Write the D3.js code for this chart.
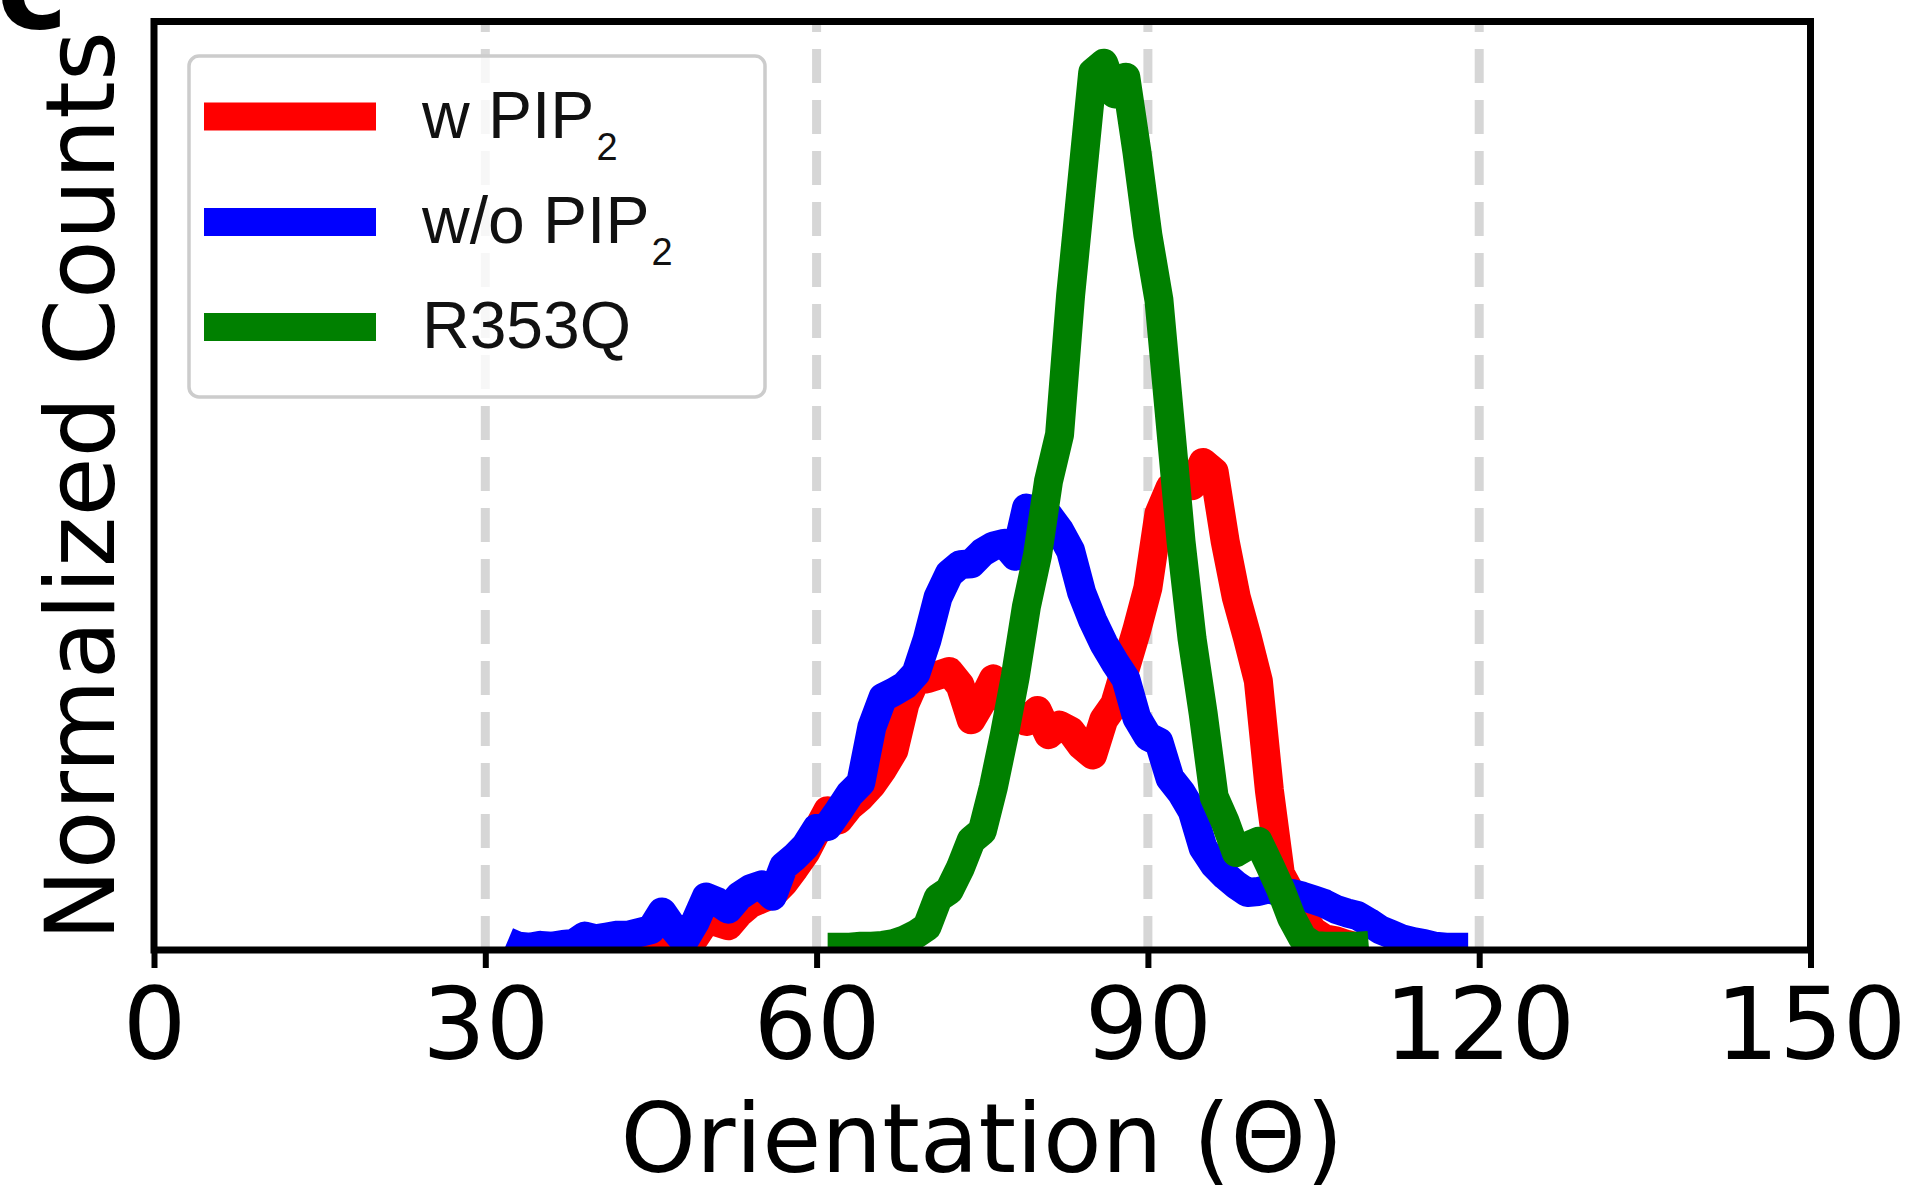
<!DOCTYPE html>
<html>
<head>
<meta charset="utf-8">
<script src="https://cdn.jsdelivr.net/npm/d3@7"></script>
<style>
  body { margin: 0; background: #fff; }
</style>
</head>
<body>
<div id="chart"></div>
<script>
'use strict';

// orientation histograms, one bin per degree, counts normalised to the axis height
var wStart = 40;
var wPip = [0.003, 0.003, 0.004, 0.004, 0.004, 0.005, 0.006, 0.003, 0.004, 0.014,
  0.032, 0.030, 0.026, 0.040, 0.050, 0.055, 0.060, 0.072, 0.088, 0.105,
  0.128, 0.150, 0.140, 0.155, 0.165, 0.178, 0.195, 0.215, 0.265, 0.292,
  0.292, 0.296, 0.300, 0.285, 0.248, 0.268, 0.292, 0.270, 0.255, 0.246,
  0.258, 0.232, 0.242, 0.236, 0.220, 0.210, 0.248, 0.265, 0.305, 0.345,
  0.390, 0.470, 0.498, 0.505, 0.500, 0.525, 0.515, 0.440, 0.380, 0.337,
  0.290, 0.172, 0.082, 0.060, 0.035, 0.020, 0.012, 0.010, 0.006, 0.003];

var woStart = 32;
var woPip = [0.009, 0.004, 0.003, 0.005, 0.004, 0.006, 0.007, 0.015, 0.012, 0.014,
  0.016, 0.016, 0.019, 0.022, 0.041, 0.024, 0.010, 0.030, 0.057, 0.052,
  0.044, 0.058, 0.066, 0.070, 0.058, 0.090, 0.100, 0.112, 0.131, 0.133,
  0.150, 0.168, 0.180, 0.240, 0.272, 0.278, 0.285, 0.298, 0.334, 0.380,
  0.405, 0.415, 0.416, 0.428, 0.435, 0.438, 0.424, 0.476, 0.472, 0.468,
  0.452, 0.430, 0.385, 0.355, 0.330, 0.310, 0.292, 0.250, 0.230, 0.224,
  0.185, 0.170, 0.150, 0.110, 0.092, 0.080, 0.070, 0.062, 0.063, 0.066,
  0.062, 0.061, 0.058, 0.054, 0.050, 0.044, 0.040, 0.037, 0.030, 0.022,
  0.017, 0.012, 0.009, 0.007, 0.004, 0.003, 0.003, 0.003];

var rStart = 61;
var r353q = [0.003, 0.003, 0.003, 0.004, 0.004, 0.005, 0.007, 0.011, 0.017, 0.025,
  0.056, 0.064, 0.088, 0.118, 0.128, 0.175, 0.232, 0.295, 0.370, 0.425,
  0.505, 0.555, 0.705, 0.825, 0.945, 0.955, 0.922, 0.940, 0.860, 0.770,
  0.700, 0.570, 0.440, 0.335, 0.255, 0.165, 0.138, 0.105, 0.112, 0.117,
  0.092, 0.066, 0.035, 0.013, 0.005, 0.004, 0.004, 0.004, 0.004, 0.005];

var seriesNames = ['w PIP', 'w/o PIP', 'R353Q'];
var seriesSubs = ['2', '2', ''];
var seriesColors = ['#ff0000', '#0000ff', '#008000'];

var xTicks = [0, 30, 60, 90, 120, 150];
var gridTicks = [30, 60, 90, 120];

var width = 1913, height = 1189;
var plotLeft = 154, plotRight = 1810.5, plotTop = 21.5, plotBottom = 950;

var svg = d3.select('#chart')
  .append('svg')
  .attr('width', width)
  .attr('height', height);

var x = d3.scaleLinear().domain([0, 150]).range([plotLeft, plotRight]);
var y = d3.scaleLinear().domain([0, 1]).range([plotBottom, plotTop]);

function toPoints(start, vals) {
  return vals.map(function (v, i) { return [start + i, v]; });
}
var series = [toPoints(wStart, wPip), toPoints(woStart, woPip), toPoints(rStart, r353q)];

svg.append('clipPath').attr('id', 'plot-clip')
  .append('rect')
  .attr('x', plotLeft).attr('y', plotTop)
  .attr('width', plotRight - plotLeft).attr('height', plotBottom - plotTop);

// dashed vertical guides
svg.append('g').selectAll('line')
  .data(gridTicks)
  .enter().append('line')
  .attr('x1', function (d) { return x(d); })
  .attr('x2', function (d) { return x(d); })
  .attr('y1', y(0))
  .attr('y2', y(1))
  .attr('stroke', '#d6d6d6')
  .attr('stroke-width', 9)
  .attr('stroke-dasharray', '34,17');

var line = d3.line()
  .x(function (d) { return x(d[0]); })
  .y(function (d) { return y(d[1]); });

svg.append('g')
  .attr('clip-path', 'url(#plot-clip)')
  .selectAll('path')
  .data(series)
  .enter().append('path')
  .attr('d', line)
  .attr('fill', 'none')
  .attr('stroke', function (d, i) { return seriesColors[i]; })
  .attr('stroke-width', 29)
  .attr('stroke-linejoin', 'round')
  .attr('stroke-linecap', 'butt');

// x axis
var xAxis = svg.append('g')
  .attr('transform', 'translate(0,' + plotBottom + ')')
  .call(d3.axisBottom(x).tickValues(xTicks).tickSize(18).tickPadding(20));
xAxis.select('.domain').remove();
xAxis.selectAll('.tick line').attr('stroke', '#000').attr('stroke-width', 6);
xAxis.selectAll('.tick text')
  .attr('fill', '#000')
  .style('font-family', 'DejaVu Sans')
  .style('font-size', '100px');

// frame
svg.append('rect')
  .attr('x', plotLeft).attr('y', plotTop)
  .attr('width', plotRight - plotLeft).attr('height', plotBottom - plotTop)
  .attr('fill', 'none')
  .attr('stroke', '#000')
  .attr('stroke-width', 7);

svg.append('text')
  .attr('x', 982)
  .attr('y', 1172)
  .attr('text-anchor', 'middle')
  .style('font-family', 'DejaVu Sans')
  .style('font-size', '96px')
  .text('Orientation (\u0398)');

svg.append('text')
  .attr('transform', 'translate(114,486) rotate(-90)')
  .attr('text-anchor', 'middle')
  .style('font-family', 'DejaVu Sans')
  .style('font-size', '96px')
  .text('Normalized Counts');

// panel letter, cut by the top edge
svg.append('text')
  .attr('x', 68)
  .attr('y', 28)
  .attr('text-anchor', 'end')
  .style('font-family', 'DejaVu Sans')
  .style('font-weight', 'bold')
  .style('font-size', '120px')
  .text('c');

// legend
var legend = svg.append('g');
legend.append('rect')
  .attr('x', 189).attr('y', 56)
  .attr('width', 576).attr('height', 341)
  .attr('rx', 10)
  .attr('fill', '#fff')
  .attr('fill-opacity', 0.8)
  .attr('stroke', '#cccccc')
  .attr('stroke-width', 3.5);

var rowY = [116.5, 222, 327];
var item = legend.selectAll('.item')
  .data(seriesNames)
  .enter().append('g')
  .attr('class', 'item');

item.append('line')
  .attr('x1', 204).attr('x2', 376)
  .attr('y1', function (d, i) { return rowY[i]; })
  .attr('y2', function (d, i) { return rowY[i]; })
  .attr('stroke', function (d, i) { return seriesColors[i]; })
  .attr('stroke-width', 28);

var label = item.append('text')
  .attr('x', 422)
  .attr('y', function (d, i) { return rowY[i] + 21; })
  .attr('fill', '#111')
  .style('font-family', 'Liberation Sans')
  .style('font-size', '66px');
label.append('tspan').text(function (d) { return d; });
label.append('tspan')
  .attr('dx', 2)
  .attr('dy', 22)
  .style('font-size', '38px')
  .text(function (d, i) { return seriesSubs[i]; });
</script>
</body>
</html>
